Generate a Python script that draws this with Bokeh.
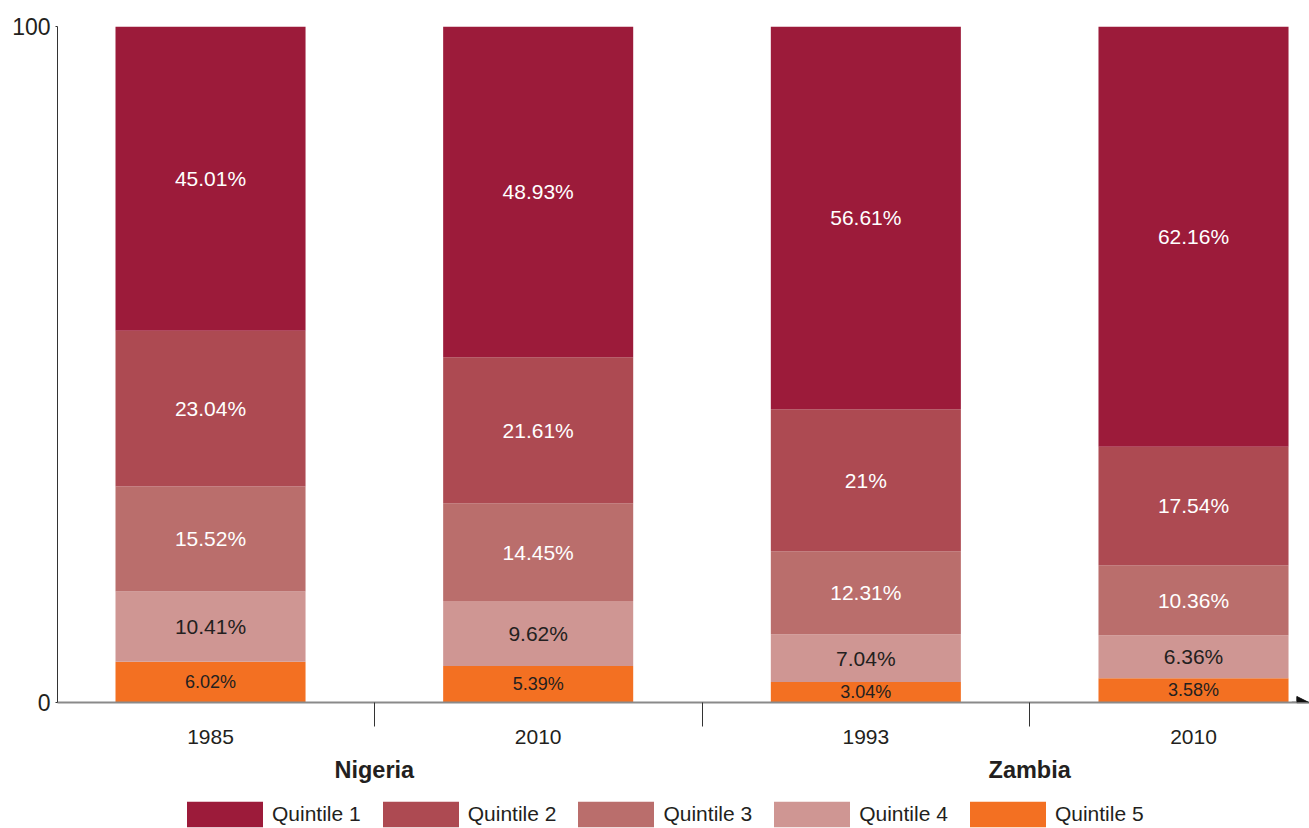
from bokeh.plotting import figure
from bokeh.layouts import column
from bokeh.models import (ColumnDataSource, Range1d, FixedTicker, LinearAxis,
                          Legend, LegendItem, Arrow, NormalHead)
from bokeh.embed import file_html
from bokeh.resources import INLINE
from bokeh.core.properties import value

# ---- data ----
periods = ["1985", "2010", "1993", "2010"]
period_country = ["Nigeria", "Nigeria", "Zambia", "Zambia"]
countries = ["Nigeria", "Zambia"]
quintiles = ["Quintile 1", "Quintile 2", "Quintile 3", "Quintile 4", "Quintile 5"]
q1 = [45.01, 48.93, 56.61, 62.16]
q2 = [23.04, 21.61, 21, 17.54]
q3 = [15.52, 14.45, 12.31, 10.36]
q4 = [10.41, 9.62, 7.04, 6.36]
q5 = [6.02, 5.39, 3.04, 3.58]
series = [q1, q2, q3, q4, q5]
colors = ["#9C1B3A", "#AD4A52", "#BA6E6C", "#CF9693", "#F37022"]
text_colors = ["#FFFFFF", "#FFFFFF", "#FFFFFF", "#231F20", "#231F20"]
label_sizes = ["21px", "21px", "21px", "21px", "18px"]

FONT = "Liberation Sans"

xs = [i + 0.5 for i in range(len(periods))]

p = figure(frame_width=1252, frame_height=676, output_backend="svg", toolbar_location=None,
           x_range=Range1d(0.033, 3.854), y_range=Range1d(0, 100),
           min_border_left=57, min_border_top=26, min_border_right=0,
           min_border_bottom=96)
p.outline_line_color = None
p.xgrid.visible = False
p.ygrid.visible = False
p.background_fill_color = "white"
p.border_fill_color = "white"

# stacked bars, bottom = Quintile 5
bottoms = [0.0] * len(xs)
for qi in reversed(range(len(quintiles))):
    vals = series[qi]
    tops = [b + v for b, v in zip(bottoms, vals)]
    src = ColumnDataSource(dict(
        x=xs, bottom=list(bottoms), top=tops,
        mid=[(b + t) / 2 for b, t in zip(bottoms, tops)],
        label=[f"{v:g}%" for v in vals]))
    p.vbar(x="x", bottom="bottom", top="top", width=0.58, source=src,
           fill_color=colors[qi], line_color=None)
    p.text(x="x", y="mid", text="label", source=src, text_align="center",
           text_baseline="middle", text_color=text_colors[qi],
           text_font=value(FONT), text_font_size=label_sizes[qi])
    bottoms = tops

# y axis
p.yaxis.ticker = FixedTicker(ticks=[0, 100])
p.yaxis.axis_line_color = "#333333"
p.yaxis.axis_line_width = 1
p.yaxis.major_tick_out = 2
p.yaxis.major_tick_in = 0
p.yaxis.minor_tick_line_color = None
p.yaxis.major_tick_line_color = "#333333"
p.yaxis.major_label_text_font = FONT
p.yaxis.major_label_text_font_size = "23px"
p.yaxis.major_label_text_color = "#231F20"
p.yaxis.major_label_standoff = 5

# x axis with period labels and separators
sep = [i + 1.0 for i in range(len(periods) - 1)]
xa = p.xaxis[0]
xa.ticker = FixedTicker(ticks=xs, minor_ticks=sep)
xa.major_label_overrides = {x: lab for x, lab in zip(xs, periods)}
xa.axis_line_color = "#8A8A8A"
xa.axis_line_width = 2
xa.major_tick_out = 0
xa.major_tick_in = 0
xa.minor_tick_out = 24
xa.minor_tick_in = 0
xa.minor_tick_line_color = "#333333"
xa.minor_tick_line_width = 1
xa.major_label_text_font = FONT
xa.major_label_text_font_size = "21px"
xa.major_label_text_color = "#231F20"
xa.major_label_standoff = 3
xa.axis_label_standoff = 0
xa.axis_label_text_font_size = "0px"

# country axis
cpos = []
for c in countries:
    idx = [x for x, pc in zip(xs, period_country) if pc == c]
    cpos.append(sum(idx) / len(idx))
ca = LinearAxis(ticker=FixedTicker(ticks=cpos),
                major_label_overrides={x: c for x, c in zip(cpos, countries)})
ca.axis_line_color = None
ca.major_tick_line_color = None
ca.minor_tick_line_color = None
ca.major_tick_out = 0
ca.major_tick_in = 0
ca.minor_tick_out = 0
ca.minor_tick_in = 0
ca.major_label_text_font = FONT
ca.major_label_text_font_style = "bold"
ca.major_label_text_font_size = "23.5px"
ca.major_label_text_color = "#231F20"
ca.major_label_standoff = 10
ca.axis_label_standoff = 0
ca.axis_label_text_font_size = "0px"
p.add_layout(ca, "below")

# arrow head on x axis
p.add_layout(Arrow(end=NormalHead(size=12, fill_color="#111111", line_color="#111111"),
                   x_start=3.80, y_start=0, x_end=3.852, y_end=0,
                   line_color="#8A8A8A", line_width=2))

# ---- legend strip ----
lg = figure(width=1309, height=32, output_backend="svg", toolbar_location=None,
            x_axis_type=None, y_axis_type=None, x_range=Range1d(0, 1), y_range=Range1d(0, 1),
            min_border_left=0, min_border_right=0, min_border_top=0, min_border_bottom=0)
lg.outline_line_color = None
lg.xgrid.visible = False
lg.ygrid.visible = False
lg.border_fill_color = "white"
holder = ColumnDataSource(dict(x=[-5.0], top=[0.0]))
items = []
for q, c in zip(quintiles, colors):
    r = lg.vbar(x="x", top="top", width=0.1, source=holder, fill_color=c, line_color=None)
    items.append(LegendItem(label=q, renderers=[r]))
legend = Legend(items=items, orientation="horizontal", location=(120, 0),
                glyph_width=95, glyph_height=32, label_standoff=0, spacing=12,
                padding=0, margin=0, border_line_color=None,
                label_text_font=FONT, label_text_font_size="21px",
                label_text_color="#231F20", background_fill_alpha=0)
lg.add_layout(legend, "center")

open("out.html", "w").write(file_html(column(p, lg, spacing=0), INLINE))
